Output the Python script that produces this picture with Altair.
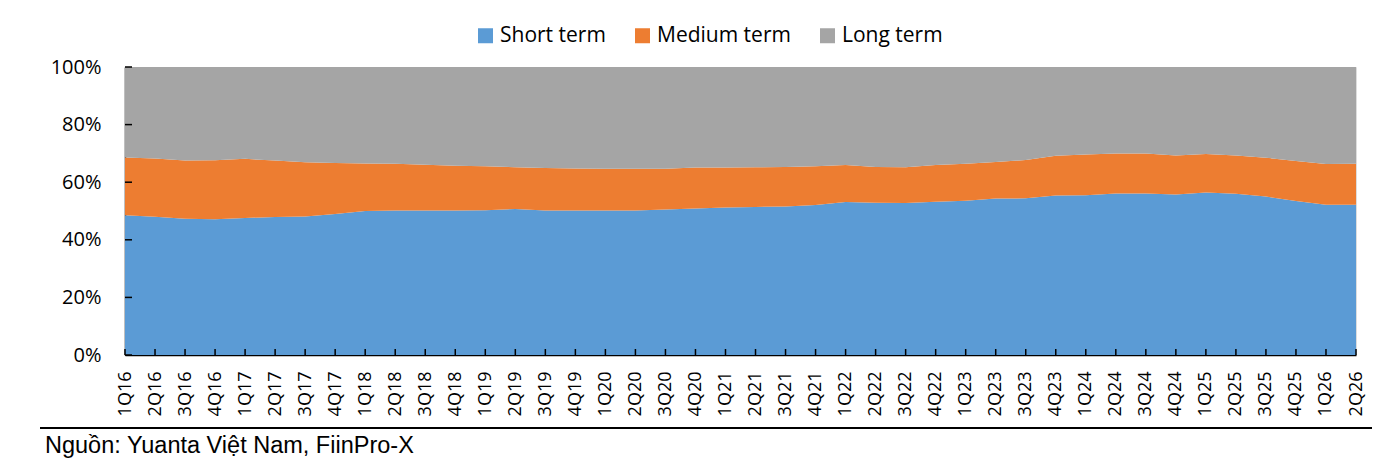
import altair as alt
import pandas as pd

quarters = ["1Q16","2Q16","3Q16","4Q16","1Q17","2Q17","3Q17","4Q17","1Q18","2Q18","3Q18","4Q18",
            "1Q19","2Q19","3Q19","4Q19","1Q20","2Q20","3Q20","4Q20","1Q21","2Q21","3Q21","4Q21",
            "1Q22","2Q22","3Q22","4Q22","1Q23","2Q23","3Q23","4Q23","1Q24","2Q24","3Q24","4Q24",
            "1Q25","2Q25","3Q25","4Q25","1Q26","2Q26"]

# cumulative top of short-term (blue) and medium-term (orange) bands, in %
short_top = [48.5, 48.0, 47.3, 47.1, 47.6, 47.9, 48.1, 49.0, 50.0, 50.2, 50.2, 50.2,
             50.3, 50.7, 50.2, 50.2, 50.2, 50.2, 50.5, 50.9, 51.2, 51.4, 51.6, 52.1,
             53.1, 52.9, 52.8, 53.2, 53.6, 54.3, 54.4, 55.4, 55.5, 56.1, 56.1, 55.7,
             56.4, 56.0, 55.0, 53.5, 52.2, 52.2]
medium_top = [68.6, 68.2, 67.5, 67.6, 68.1, 67.5, 66.9, 66.7, 66.5, 66.4, 66.1, 65.7,
              65.5, 65.2, 64.9, 64.8, 64.7, 64.7, 64.7, 65.1, 65.1, 65.2, 65.3, 65.5,
              66.0, 65.3, 65.2, 66.0, 66.4, 67.0, 67.7, 69.2, 69.6, 70.0, 70.0, 69.3,
              69.8, 69.3, 68.5, 67.4, 66.3, 66.4]

series = ["Short term", "Medium term", "Long term"]
colors = ["#5B9BD5", "#ED7D31", "#A5A5A5"]
y_ticks = [0, 0.2, 0.4, 0.6, 0.8, 1.0]
source_text = "Nguồn: Yuanta Việt Nam, FiinPro-X"

rows = []
for q, s, m in zip(quarters, short_top, medium_top):
    rows.append({"q": q, "series": "Short term", "order": 0, "v": s})
    rows.append({"q": q, "series": "Medium term", "order": 1, "v": round(m - s, 2)})
    rows.append({"q": q, "series": "Long term", "order": 2, "v": round(100 - m, 2)})
df = pd.DataFrame(rows)

W, H = 1231, 288
FONT = "Open Sans"

xscale = alt.Scale(type="point", padding=0)
yscale = alt.Scale(domain=[0, 1])

area = alt.Chart(df).mark_area(interpolate="linear", opacity=1).encode(
    x=alt.X("q:N", sort=quarters, scale=xscale,
            axis=alt.Axis(title=None, labelAngle=270, labelAlign="right", labelBaseline="middle",
                          labelPadding=16, ticks=False, domainColor="black", domainWidth=1.5,
                          labelFont=FONT, labelFontSize=18, labelColor="black", grid=False)),
    y=alt.Y("v:Q", stack="normalize", scale=yscale,
            axis=alt.Axis(title=None, format=".0%", values=y_ticks, ticks=False, labelPadding=24,
                          domainColor="black", domainWidth=1.5, labelFont=FONT, labelFontSize=20,
                          labelColor="black", grid=False)),
    color=alt.Color("series:N", scale=alt.Scale(domain=series, range=colors),
                    legend=alt.Legend(title=None, orient="none", direction="horizontal",
                                      legendX=350, legendY=-42, symbolType="square", symbolSize=225,
                                      symbolStrokeWidth=0, symbolOpacity=1, labelFont=FONT,
                                      labelFontSize=21, labelColor="black", labelOffset=4,
                                      columnPadding=26, padding=0)),
    order=alt.Order("order:Q"),
)

ytick_df = pd.DataFrame({"t": y_ticks})
yticks = alt.Chart(ytick_df).mark_rule(color="black", strokeWidth=1.5).encode(
    y=alt.Y("t:Q", scale=yscale), x=alt.value(0), x2=alt.value(7)
)

xtick_df = pd.DataFrame({"q": quarters})
xticks = alt.Chart(xtick_df).mark_rule(color="black", strokeWidth=1.5).encode(
    x=alt.X("q:N", sort=quarters, scale=xscale), y=alt.value(H), y2=alt.value(H - 6)
)

sep = alt.Chart(pd.DataFrame({"a": [0]})).mark_rule(color="black", strokeWidth=2).encode(
    x=alt.value(-85), x2=alt.value(1247), y=alt.value(361)
)

src = alt.Chart(pd.DataFrame({"t": [source_text]})).mark_text(
    align="left", baseline="alphabetic", font="Liberation Sans", fontSize=23.5, color="black"
).encode(text="t:N", x=alt.value(-80), y=alt.value(386))

chart = alt.layer(area, yticks, xticks, sep, src).properties(
    width=W, height=H,
    autosize=alt.AutoSizeParams(type="none"),
    padding={"left": 117, "top": 59, "right": 22, "bottom": 106},
).configure_view(stroke=None).configure(background="white")

chart.save("out.html", embed_options={"renderer": "svg", "actions": False})
